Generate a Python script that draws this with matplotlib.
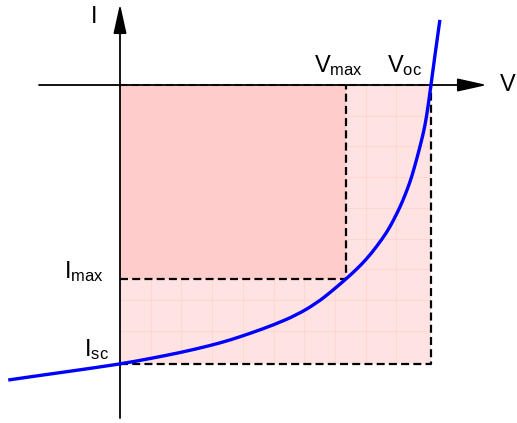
import numpy as np
import matplotlib
matplotlib.use("Agg")
import matplotlib.pyplot as plt
from matplotlib.path import Path
from matplotlib.patches import PathPatch

plt.rcParams['font.family'] = ['Liberation Sans', 'DejaVu Sans']
plt.rcParams['mathtext.fontset'] = 'custom'
plt.rcParams['mathtext.rm'] = 'Liberation Sans'
plt.rcParams['mathtext.it'] = 'Liberation Sans'

# -----------------------------
# I-V curve (grid units, current drawn below the V axis)
# -----------------------------
v_curve = [-3.64, -2.82, -1.74, 0.00, 0.98, 1.95, 2.93, 3.58, 4.24, 4.99,
           5.76, 6.41, 6.87, 7.36, 7.71, 8.04, 8.36, 8.69, 8.90, 9.12,
           9.28, 9.45, 9.55, 9.66, 9.81, 9.94, 10.03, 10.13, 10.26, 10.42]
i_curve = [-9.61, -9.49, -9.34, -9.09, -8.91, -8.72, -8.49, -8.31, -8.09, -7.82,
           -7.49, -7.10, -6.74, -6.32, -6.00, -5.66, -5.26, -4.80, -4.42, -3.98,
           -3.60, -3.15, -2.82, -2.43, -1.86, -1.30, -0.72, 0.00, 0.98, 2.12]

v_oc = 10.13
v_max = 7.36
i_max = -6.32
i_sc = -9.09

grid_v = [1, 2, 3, 4, 5, 6, 7, 8, 9]
grid_i = [-1, -2, -3, -4, -5, -6, -7, -8]

# -----------------------------
# pixel helpers (layout only)
# -----------------------------
S = 30.7
X0, Y0 = 120, 85
W, H = 517, 423

def px(x):
    return (x - X0) / S

def py(y):
    return -(y - Y0) / S

def smooth_path(xs, ys):
    # quadratic bezier through midpoints, points used as control points
    pts = list(zip(xs, ys))
    verts = [pts[0]]
    codes = [Path.MOVETO]
    for k in range(len(pts) - 1):
        mid = ((pts[k][0] + pts[k + 1][0]) / 2, (pts[k][1] + pts[k + 1][1]) / 2)
        if k == 0:
            verts.append(mid)
            codes.append(Path.LINETO)
        else:
            verts += [pts[k], mid]
            codes += [Path.CURVE3, Path.CURVE3]
    verts.append(pts[-1])
    codes.append(Path.LINETO)
    return Path(verts, codes)

fig = plt.figure(figsize=(W / 100, H / 100), dpi=100)
ax = fig.add_axes([0, 0, 1, 1])
ax.set_xlim(px(0), px(W))
ax.set_ylim(py(H), py(0))
ax.axis('off')

# light rectangle Voc x Isc with faint grid
ax.fill_between([0, v_oc], i_sc, 0, color='#ffe3e3', lw=0, zorder=1)
ax.vlines(grid_v, i_sc, 0, color='#ffd3d3', lw=0.6, zorder=2)
ax.hlines(grid_i, 0, v_oc, color='#ffd3d3', lw=0.6, zorder=2)

# max power rectangle
ax.fill_between([0, v_max], i_max, 0, color='#ffcccc', lw=0, zorder=3)

# dashed outlines
dash = dict(color='black', lw=1.6, linestyle=(0, (3.6, 1.9)), zorder=4)
ax.plot([0, v_oc, v_oc], [i_sc, i_sc, 0], **dash)
ax.plot([0, v_max, v_max], [i_max, i_max, 0], **dash)
ax.plot([0, v_oc], [0, 0], color='#555555', lw=1.5, linestyle=(0, (3.6, 1.9)), zorder=4)

# axes with arrows
arrow = dict(arrowstyle='-|>,head_length=0.9,head_width=0.2', color='black',
             lw=1.3, shrinkA=0, shrinkB=0, mutation_scale=20)
ax.annotate('', xy=(px(487), 0), xytext=(px(39), 0), arrowprops=arrow, zorder=5)
ax.annotate('', xy=(0, py(4)), xytext=(0, py(418)), arrowprops=arrow, zorder=5)

# curve
ax.add_patch(PathPatch(smooth_path(v_curve, i_curve), facecolor='none',
                       edgecolor='#0000ff', lw=2.4, capstyle='butt', zorder=6))

# labels
fs = 17
ax.text(px(508), py(91), 'V', fontsize=fs, ha='center', va='baseline')
ax.text(px(94), py(23), 'I', fontsize=fs, ha='center', va='baseline')
ax.text(px(339), py(72), r'$\mathrm{V}_{\mathrm{max}}$', fontsize=fs, ha='center', va='baseline')
ax.text(px(405), py(72), r'$\mathrm{V}_{\mathrm{oc}}$', fontsize=fs, ha='center', va='baseline')
ax.text(px(104), py(278), r'$\mathrm{I}_{\mathrm{max}}$', fontsize=fs, ha='right', va='baseline')
ax.text(px(109), py(356), r'$\mathrm{I}_{\mathrm{sc}}$', fontsize=fs, ha='right', va='baseline')

fig.savefig('out.png', dpi=100)
